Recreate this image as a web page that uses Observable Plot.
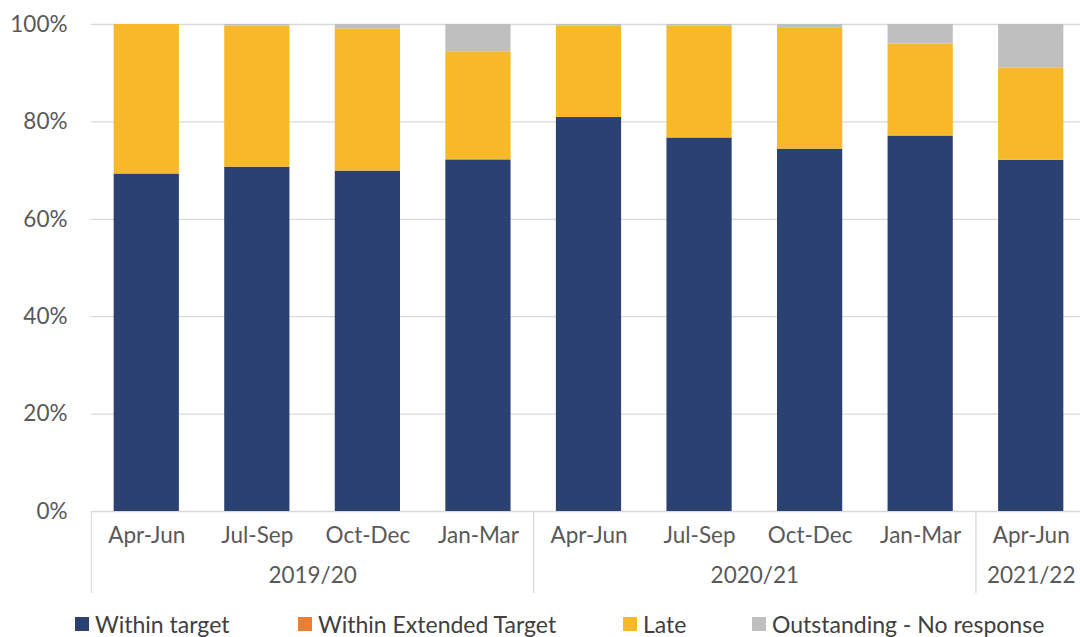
<!DOCTYPE html>
<html>
<head>
<meta charset="utf-8">
<script src="https://cdn.jsdelivr.net/npm/d3@7"></script>
<script src="https://cdn.jsdelivr.net/npm/@observablehq/plot@0.6"></script>
<style>
  html, body { margin: 0; padding: 0; background: #fff; }
  body { width: 1080px; height: 637px; overflow: hidden; font-family: Lato, "Open Sans", sans-serif; }
  #chart svg { overflow: hidden; }
  #legend { position: relative; height: 32px; margin-top: 5px; font-size: 23px; color: #404040; }
  #legend .item { position: absolute; top: 0; display: flex; align-items: center; white-space: nowrap; }
  #legend .sw { width: 14px; height: 14px; margin-right: 6px; }
</style>
</head>
<body>
<div id="chart"></div>
<div id="legend"></div>
<script>
// ---- data ----
const quarters = ["Apr-Jun", "Jul-Sep", "Oct-Dec", "Jan-Mar", "Apr-Jun", "Jul-Sep", "Oct-Dec", "Jan-Mar", "Apr-Jun"];
const years = ["2019/20", "2019/20", "2019/20", "2019/20", "2020/21", "2020/21", "2020/21", "2020/21", "2021/22"];
const withinTarget   = [69.3, 70.7, 69.9, 72.2, 80.9, 76.7, 74.4, 77.1, 72.1];
const withinExtended = [0, 0, 0, 0, 0, 0, 0, 0, 0];
const late           = [30.7, 29.0, 29.2, 22.2, 18.75, 22.95, 24.8, 18.9, 19.0];
const outstanding    = [0.0, 0.3, 0.9, 5.6, 0.35, 0.35, 0.8, 4.0, 8.9];
const seriesNames = ["Within target", "Within Extended Target", "Late", "Outstanding - No response"];
const seriesColors = ["#2B4172", "#ED7D31", "#F7B829", "#BFBFBF"];
const yTicks = [0, 20, 40, 60, 80, 100];

// ---- build stacked table ----
const seriesValues = [withinTarget, withinExtended, late, outstanding];
const rows = [];
quarters.forEach((q, i) => {
  let base = 0;
  seriesValues.forEach((vals, s) => {
    const v = vals[i];
    rows.push({i, series: seriesNames[s], y1: base, y2: base + v});
    base += v;
  });
});

// group boundaries and centres from the years list
const groupNames = [...new Set(years)];
const groupCentres = groupNames.map(g => {
  const idx = years.map((y, i) => y === g ? i : null).filter(v => v !== null);
  return d3.mean(idx);
});
const boundaries = [-0.5];
years.forEach((y, i) => { if (i === years.length - 1 || years[i + 1] !== y) boundaries.push(i + 0.5); });

const halfBar = 0.295;
const font = "Lato, 'Open Sans', sans-serif";
const fs = 22.5;

const chart = Plot.plot({
  width: 1080,
  height: 605,
  marginLeft: 91,
  marginRight: 0,
  marginTop: 24,
  marginBottom: 94,
  style: {fontFamily: font, fontSize: fs + "px", color: "#595959", background: "#fff"},
  x: {type: "linear", domain: [-0.5, quarters.length - 0.5], range: [91, 1086]},
  y: {domain: [0, 100]},
  color: {domain: seriesNames, range: seriesColors},
  marks: [
    Plot.ruleY(yTicks, {stroke: "#D9D9D9", strokeWidth: 1.3}),
    Plot.rectY(rows, {
      x1: d => d.i - halfBar,
      x2: d => d.i + halfBar,
      y1: "y1",
      y2: "y2",
      fill: "series"
    }),
    Plot.axisY(yTicks, {tickSize: 0, tickPadding: 24, tickFormat: d => d + "%", fill: "#595959", fontSize: fs}),
    Plot.axisX(quarters.map((q, i) => i), {tickSize: 0, tickPadding: 16, tickFormat: i => quarters[i], fill: "#595959", fontSize: fs}),
    Plot.axisX(groupCentres, {tickSize: 0, tickPadding: 56, tickFormat: (d, k) => groupNames[k], fill: "#595959", fontSize: fs}),
    Plot.axisX(boundaries, {tickSize: 82, tickFormat: () => "", stroke: "#D9D9D9", strokeWidth: 1.3})
  ]
});
document.getElementById("chart").appendChild(chart);

// ---- legend ----
const legendX = [75, 298, 623, 752];
const legend = document.getElementById("legend");
seriesNames.forEach((name, k) => {
  const item = document.createElement("div");
  item.className = "item";
  item.style.left = legendX[k] + "px";
  item.innerHTML = `<span class="sw" style="background:${seriesColors[k]}"></span><span>${name}</span>`;
  legend.appendChild(item);
});
</script>
</body>
</html>
